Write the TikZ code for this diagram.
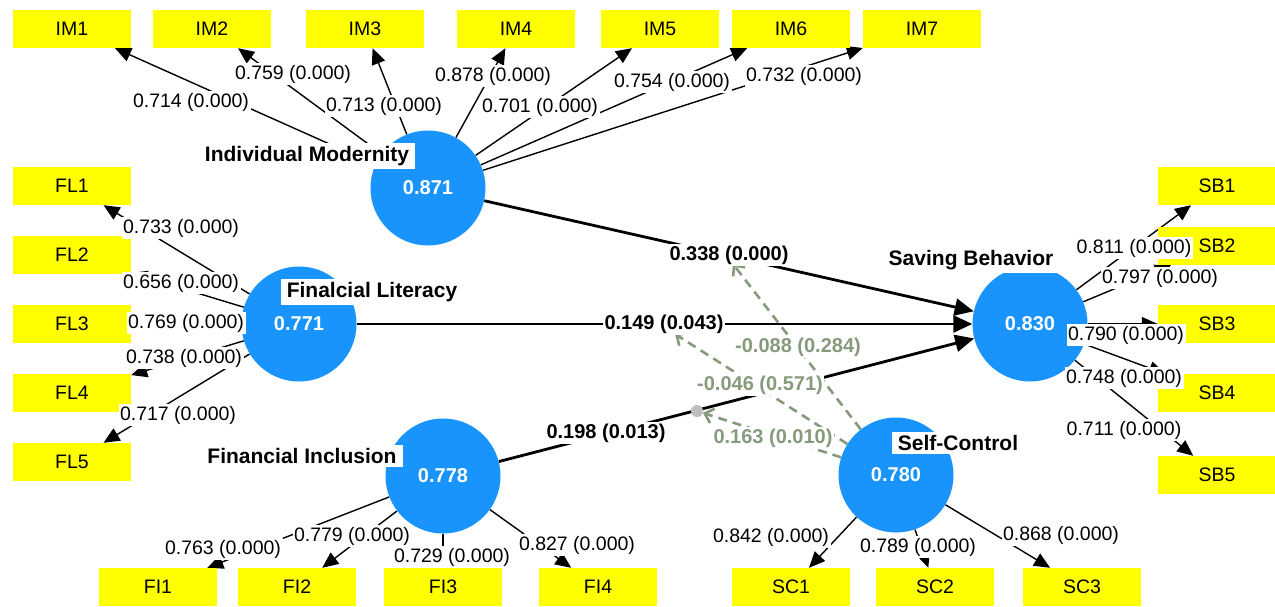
\documentclass[tikz,border=0pt]{standalone}
\usepackage{fontspec}
\setmainfont{Liberation Sans}
\usetikzlibrary{arrows.meta}
\definecolor{indyellow}{RGB}{255,255,0}
\definecolor{latblue}{RGB}{24,148,252}
\definecolor{modgreen}{RGB}{134,154,124}
\definecolor{dotgrey}{RGB}{190,190,190}
\pgfdeclarelayer{bg}
\pgfsetlayers{bg,main}

\begin{document}
\begin{tikzpicture}[x=1pt,y=-1pt,
  indicator/.style={rectangle, fill=indyellow, minimum width=118pt, minimum height=38pt,
    inner sep=0pt, font=\fontsize{19.5}{22}\selectfont},
  latent/.style={circle, fill=latblue, minimum size=115pt, inner sep=0pt, text=white,
    font=\bfseries\fontsize{20}{24}\selectfont},
  lvname/.style={fill=white, inner xsep=6pt, inner ysep=3pt, font=\bfseries\fontsize{21}{25}\selectfont},
  loadlbl/.style={fill=white, inner sep=1.5pt, font=\fontsize{19.5}{22}\selectfont},
  pathlbl/.style={fill=white, inner sep=1.5pt, font=\bfseries\fontsize{20}{24}\selectfont},
  modlbl/.style={fill=white, inner sep=1.5pt, text=modgreen, font=\bfseries\fontsize{20}{24}\selectfont},
  loading/.style={draw=black, line width=1.4pt, -{Triangle[length=16pt,width=14pt]}},
  structural/.style={draw=black, line width=2.8pt, -{Triangle[length=19pt,width=17pt]}},
  moderation/.style={draw=modgreen, line width=2.6pt, dash pattern=on 9pt off 6pt,
    -{Straight Barb[length=8pt,width=15pt]}},
]
\useasboundingbox (0,0) rectangle (1275,606);

% latent variables
\node[latent] (im) at (428,188) {0.871};
\node[latent] (fl) at (299,324) {0.771};
\node[latent] (fi) at (443,476) {0.778};
\node[latent] (sb) at (1030,324) {0.830};
\node[latent] (sc) at (896,475) {0.780};

% indicators
\node[indicator] (im1) at (72,29) {IM1};
\node[indicator] (im2) at (212,29) {IM2};
\node[indicator] (im3) at (365,29) {IM3};
\node[indicator] (im4) at (516,29) {IM4};
\node[indicator] (im5) at (660,29) {IM5};
\node[indicator] (im6) at (791,29) {IM6};
\node[indicator] (im7) at (922,29) {IM7};

\node[indicator] (fl1) at (72,186) {FL1};
\node[indicator] (fl2) at (72,255) {FL2};
\node[indicator] (fl3) at (72,324) {FL3};
\node[indicator] (fl4) at (72,393) {FL4};
\node[indicator] (fl5) at (72,462) {FL5};

\node[indicator] (sb1) at (1217,186) {SB1};
\node[indicator] (sb2) at (1217,246) {SB2};
\node[indicator] (sb3) at (1217,324) {SB3};
\node[indicator] (sb4) at (1217,393) {SB4};
\node[indicator] (sb5) at (1217,475) {SB5};

\node[indicator] (fi1) at (158,587) {FI1};
\node[indicator] (fi2) at (297,587) {FI2};
\node[indicator] (fi3) at (443,587) {FI3};
\node[indicator] (fi4) at (598,587) {FI4};

\node[indicator] (sc1) at (791,587) {SC1};
\node[indicator] (sc2) at (935,587) {SC2};
\node[indicator] (sc3) at (1082,587) {SC3};

% point on the inclusion path that carries the interaction term
\node[circle, fill=dotgrey, minimum size=12pt, inner sep=0pt] (dot) at (697,411) {};
\coordinate (m1) at (733,264);
\coordinate (m2) at (675,334);

\begin{pgfonlayer}{bg}
  \fill[white] (0,0) rectangle (1275,606);
  \foreach \t in {im1,im2,im3,im4,im5,im6,im7} \draw[loading] (im) -- (\t);
  \foreach \t in {fl1,fl2,fl3,fl4,fl5} \draw[loading] (fl) -- (\t);
  \foreach \t in {sb1,sb2,sb3,sb4,sb5} \draw[loading] (sb) -- (\t);
  \foreach \t in {fi1,fi2,fi3,fi4} \draw[loading] (fi) -- (\t);
  \foreach \t in {sc1,sc2,sc3} \draw[loading] (sc) -- (\t);
  \draw[structural] (im) -- (sb);
  \draw[structural] (fl) -- (sb);
  \draw[structural] (fi) -- (sb);
  \draw[moderation] (sc) -- (m1);
  \draw[moderation] (sc) -- (m2);
  \draw[moderation] (sc) -- (dot);
\end{pgfonlayer}

% construct names
\node[lvname] (imname) at (307,156) {Individual Modernity};
\node[lvname] (flname) at (372,292) {Finalcial Literacy};
\node[lvname] (finame) at (302,456) {Financial Inclusion};
\node[lvname] (sbname) at (971,260) {Saving Behavior};
\node[lvname] (scname) at (958,443) {Self-Control};

% outer loadings
\node[loadlbl] (lim1) at (191,102) {0.714 (0.000)};
\node[loadlbl] (lim2) at (293,74) {0.759 (0.000)};
\node[loadlbl] (lim3) at (384,106) {0.713 (0.000)};
\node[loadlbl] (lim4) at (493,76) {0.878 (0.000)};
\node[loadlbl] (lim5) at (540,107) {0.701 (0.000)};
\node[loadlbl] (lim6) at (672,82) {0.754 (0.000)};
\node[loadlbl] (lim7) at (804,76) {0.732 (0.000)};

\node[loadlbl] (lfl1) at (181,228) {0.733 (0.000)};
\node[loadlbl] (lfl2) at (181,283) {0.656 (0.000)};
\node[loadlbl] (lfl3) at (186,323) {0.769 (0.000)};
\node[loadlbl] (lfl4) at (184,358) {0.738 (0.000)};
\node[loadlbl] (lfl5) at (178,415) {0.717 (0.000)};

\node[loadlbl] (lsb1) at (1134,248) {0.811 (0.000)};
\node[loadlbl] (lsb2) at (1160,278) {0.797 (0.000)};
\node[loadlbl] (lsb3) at (1126,335) {0.790 (0.000)};
\node[loadlbl] (lsb4) at (1124,378) {0.748 (0.000)};
\node[loadlbl] (lsb5) at (1124,430) {0.711 (0.000)};

\node[loadlbl] (lfi1) at (223,549) {0.763 (0.000)};
\node[loadlbl] (lfi2) at (352,536) {0.779 (0.000)};
\node[loadlbl] (lfi3) at (452,557) {0.729 (0.000)};
\node[loadlbl] (lfi4) at (577,545) {0.827 (0.000)};

\node[loadlbl] (lsc1) at (771,537) {0.842 (0.000)};
\node[loadlbl] (lsc2) at (918,547) {0.789 (0.000)};
\node[loadlbl] (lsc3) at (1061,535) {0.868 (0.000)};

% path coefficients
\node[pathlbl] (pim) at (729,255) {0.338 (0.000)};
\node[pathlbl] (pfl) at (664,324) {0.149 (0.043)};
\node[pathlbl] (pfi) at (606,433) {0.198 (0.013)};

% interaction effects
\node[modlbl] (mim) at (798,347) {-0.088 (0.284)};
\node[modlbl] (mfl) at (760,385) {-0.046 (0.571)};
\node[modlbl] (mfi) at (773,438) {0.163 (0.010)};
\end{tikzpicture}
\end{document}
